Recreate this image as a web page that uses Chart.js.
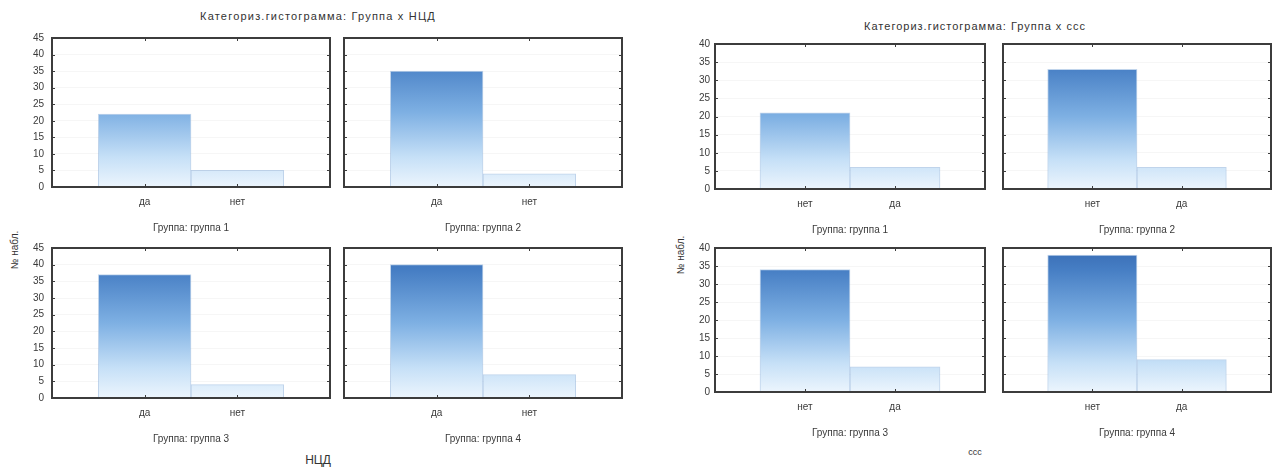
<!DOCTYPE html>
<html>
<head>
<meta charset="utf-8">
<title>Категориз.гистограмма</title>
<script src="https://cdn.jsdelivr.net/npm/chart.js@4"></script>
<style>
  html, body { margin: 0; padding: 0; background: #fff; }
  body { width: 1274px; height: 469px; position: relative; overflow: hidden;
         font-family: "Liberation Sans", Arial, sans-serif; color: #333; }
  canvas { position: absolute; }
  .txt { position: absolute; white-space: nowrap; transform: translate(-50%, -50%); font-size: 10px; color: #333; }
  .rot { transform: translate(-50%, -50%) rotate(-90deg); }
  .main { font-size: 11px; letter-spacing: 1.2px; }
</style>
</head>
<body>

<div class="txt main" style="left:318px; top:16px;">Категориз.гистограмма: Группа x НЦД</div>
<div class="txt rot" style="left:14px; top:250px;">№ набл.</div>
<div class="txt" style="left:318px; top:460px; font-size:12px;">НЦД</div>

<div class="txt main" style="left:975px; top:26px; letter-spacing:1px;">Категориз.гистограмма: Группа x ссс</div>
<div class="txt rot" style="left:680px; top:255px;">№ набл.</div>
<div class="txt" style="left:975px; top:452px; font-size:9px;">ссс</div>

<script>
// Counts of observations per group, categorized histogram "Группа x НЦД"
const nczdCategories = ['да', 'нет'];
const nczdGroup1 = [22, 5];
const nczdGroup2 = [35, 4];
const nczdGroup3 = [37, 4];
const nczdGroup4 = [40, 7];
const nczdMax = 45;

// Counts of observations per group, categorized histogram "Группа x ссс"
const cccCategories = ['нет', 'да'];
const cccGroup1 = [21, 6];
const cccGroup2 = [33, 6];
const cccGroup3 = [34, 7];
const cccGroup4 = [38, 9];
const cccMax = 40;

const groupTitles = ['Группа: группа 1', 'Группа: группа 2', 'Группа: группа 3', 'Группа: группа 4'];
const yStep = 5;

const TEXT = '#3a3a3a';
const FRAME = '#3c3c3c';
const FONT = '"Liberation Sans", Arial, sans-serif';
const PAD_TOP = 8, PAD_RIGHT = 4, X_AXIS_H = 50;

// Frame around the plot area plus short inward tick marks on all four sides
const framePlugin = {
  id: 'frame',
  afterDraw(chart) {
    const { ctx, chartArea: a, scales: { x, y } } = chart;
    ctx.save();
    ctx.strokeStyle = FRAME;
    ctx.lineWidth = 1;
    ctx.beginPath();
    y.ticks.forEach(t => {
      const py = Math.round(y.getPixelForValue(t.value)) + 0.5;
      ctx.moveTo(a.left, py); ctx.lineTo(a.left + 3, py);
      ctx.moveTo(a.right - 3, py); ctx.lineTo(a.right, py);
    });
    x.ticks.forEach((t, i) => {
      if (!chart.data.labels[i]) return;
      const px = Math.round(x.getPixelForValue(i)) + 0.5;
      ctx.moveTo(px, a.top); ctx.lineTo(px, a.top + 3);
      ctx.moveTo(px, a.bottom - 3); ctx.lineTo(px, a.bottom);
    });
    ctx.stroke();
    ctx.lineWidth = 2;
    ctx.strokeRect(a.left, a.top, a.width, a.height);
    ctx.restore();
  }
};

function barGradient(context) {
  const chart = context.chart;
  const a = chart.chartArea;
  if (!a) return 'rgba(120,170,225,1)';
  if (chart.$grad && chart.$gradKey === a.top + ':' + a.bottom) return chart.$grad;
  const g = chart.ctx.createLinearGradient(0, a.bottom, 0, a.top);
  g.addColorStop(0.0, 'rgb(236,245,253)');
  g.addColorStop(0.2, 'rgb(198,224,247)');
  g.addColorStop(0.5, 'rgb(126,176,227)');
  g.addColorStop(0.85, 'rgb(70,126,196)');
  g.addColorStop(1.0, 'rgb(56,108,180)');
  chart.$grad = g;
  chart.$gradKey = a.top + ':' + a.bottom;
  return g;
}

function makeChart(box, categories, values, yMax, title, showY, yLabelPad) {
  const yW = showY ? 30 : 2;
  const canvas = document.createElement('canvas');
  const w = yW + (box.r - box.l) + PAD_RIGHT;
  const h = PAD_TOP + (box.b - box.t) + X_AXIS_H;
  canvas.width = w; canvas.height = h;
  canvas.style.width = w + 'px'; canvas.style.height = h + 'px';
  canvas.style.left = (box.l - yW) + 'px';
  canvas.style.top = (box.t - PAD_TOP) + 'px';
  document.body.appendChild(canvas);

  const labels = [''].concat(categories, ['']);
  const data = [null].concat(values, [null]);

  return new Chart(canvas, {
    type: 'bar',
    data: {
      labels,
      datasets: [{
        data,
        backgroundColor: barGradient,
        borderColor: 'rgba(130,170,215,0.5)',
        borderWidth: 1,
        borderSkipped: 'bottom',
        barPercentage: 1,
        categoryPercentage: 1
      }]
    },
    options: {
      responsive: false,
      animation: false,
      devicePixelRatio: 1,
      layout: { padding: { top: PAD_TOP, right: PAD_RIGHT, bottom: 0, left: 0 } },
      plugins: { legend: { display: false }, tooltip: { enabled: false }, title: { display: false } },
      scales: {
        x: {
          type: 'category',
          offset: false,
          grid: { display: true, drawOnChartArea: false, drawTicks: true, tickLength: 9, tickColor: 'rgba(0,0,0,0)' },
          border: { display: false },
          ticks: {
            autoSkip: false, maxRotation: 0, padding: 0,
            color: TEXT, font: { family: FONT, size: 10 }
          },
          title: {
            display: true, text: title, color: TEXT,
            font: { family: FONT, size: 10 },
            padding: { top: 0, bottom: 3 }
          },
          afterFit(scale) { scale.height = X_AXIS_H; }
        },
        y: {
          min: 0, max: yMax,
          grid: { color: 'rgba(0,0,0,0.035)', lineWidth: 1, drawTicks: true, tickLength: yLabelPad, tickColor: 'rgba(0,0,0,0)' },
          border: { display: false },
          ticks: {
            display: showY, stepSize: yStep, padding: 0,
            color: TEXT, font: { family: FONT, size: 10 }
          },
          afterFit(scale) { scale.width = yW; }
        }
      }
    },
    plugins: [framePlugin]
  });
}

// Left block: Группа x НЦД
makeChart({ l: 52, r: 330, t: 38, b: 187 }, nczdCategories, nczdGroup1, nczdMax, groupTitles[0], true, 8);
makeChart({ l: 344, r: 622, t: 38, b: 187 }, nczdCategories, nczdGroup2, nczdMax, groupTitles[1], false, 8);
makeChart({ l: 52, r: 330, t: 248, b: 398 }, nczdCategories, nczdGroup3, nczdMax, groupTitles[2], true, 8);
makeChart({ l: 344, r: 622, t: 248, b: 398 }, nczdCategories, nczdGroup4, nczdMax, groupTitles[3], false, 8);

// Right block: Группа x ссс
makeChart({ l: 715, r: 985, t: 44, b: 189 }, cccCategories, cccGroup1, cccMax, groupTitles[0], true, 5);
makeChart({ l: 1003, r: 1271, t: 44, b: 189 }, cccCategories, cccGroup2, cccMax, groupTitles[1], false, 5);
makeChart({ l: 715, r: 985, t: 248, b: 392 }, cccCategories, cccGroup3, cccMax, groupTitles[2], true, 5);
makeChart({ l: 1003, r: 1271, t: 248, b: 392 }, cccCategories, cccGroup4, cccMax, groupTitles[3], false, 5);
</script>
</body>
</html>
